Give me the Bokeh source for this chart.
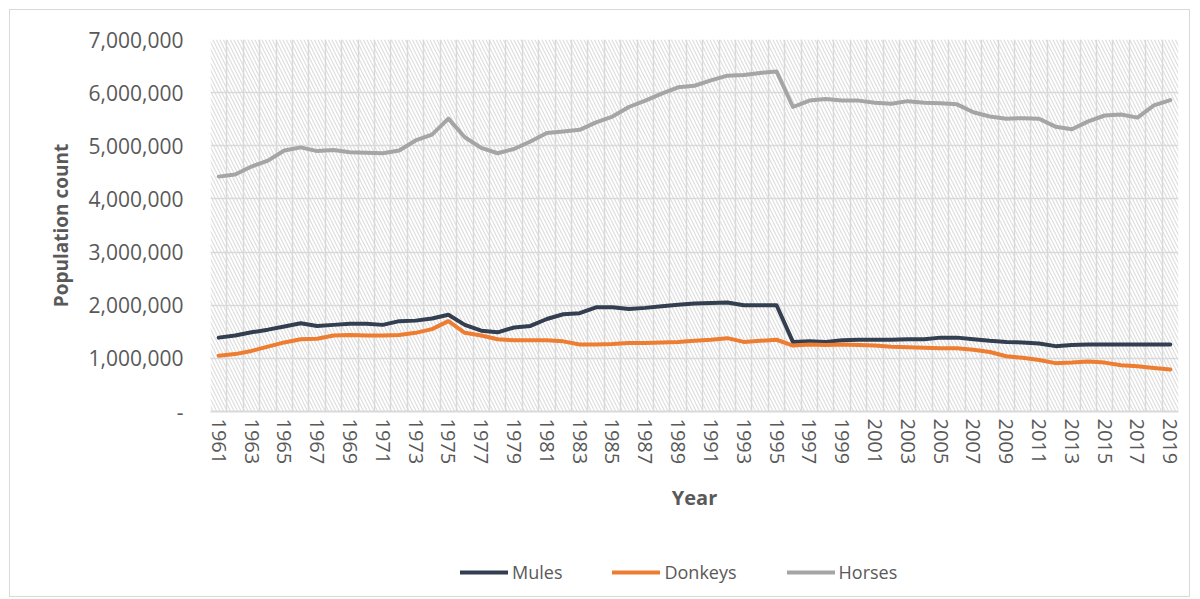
from bokeh.plotting import figure
from bokeh.layouts import column
from bokeh.models import (FixedTicker, NumeralTickFormatter, Legend, LegendItem,
                          BoxAnnotation, Range1d)
from bokeh.embed import file_html
from bokeh.resources import INLINE

years = list(range(1961, 2020))

mules = [1390000, 1430000, 1490000, 1540000, 1600000, 1660000, 1610000, 1630000, 1650000, 1650000,
         1630000, 1700000, 1710000, 1750000, 1820000, 1630000, 1520000, 1490000, 1580000, 1610000,
         1740000, 1830000, 1850000, 1960000, 1960000, 1930000, 1950000, 1980000, 2010000, 2030000,
         2040000, 2050000, 2000000, 2000000, 2000000, 1310000, 1320000, 1310000, 1340000, 1350000,
         1350000, 1350000, 1360000, 1360000, 1390000, 1390000, 1360000, 1330000, 1310000, 1300000,
         1280000, 1230000, 1250000, 1260000, 1260000, 1260000, 1260000, 1260000, 1260000]

donkeys = [1050000, 1080000, 1140000, 1220000, 1300000, 1360000, 1370000, 1430000, 1440000, 1430000,
           1430000, 1440000, 1480000, 1550000, 1700000, 1480000, 1430000, 1360000, 1340000, 1340000,
           1340000, 1320000, 1260000, 1260000, 1270000, 1290000, 1290000, 1300000, 1310000, 1330000,
           1350000, 1380000, 1310000, 1330000, 1350000, 1240000, 1260000, 1250000, 1260000, 1250000,
           1240000, 1220000, 1210000, 1200000, 1190000, 1190000, 1160000, 1120000, 1040000, 1010000,
           970000, 910000, 920000, 940000, 920000, 870000, 850000, 820000, 790000]

horses = [4420000, 4460000, 4610000, 4720000, 4910000, 4970000, 4900000, 4920000, 4880000, 4870000,
          4860000, 4910000, 5100000, 5210000, 5510000, 5160000, 4960000, 4860000, 4940000, 5080000,
          5240000, 5270000, 5300000, 5440000, 5550000, 5730000, 5850000, 5980000, 6100000, 6130000,
          6230000, 6320000, 6330000, 6370000, 6400000, 5730000, 5850000, 5880000, 5850000, 5850000,
          5810000, 5790000, 5840000, 5810000, 5800000, 5780000, 5630000, 5550000, 5510000, 5520000,
          5510000, 5360000, 5310000, 5460000, 5570000, 5590000, 5530000, 5760000, 5860000]

series_names = ["Mules", "Donkeys", "Horses"]
series_colors = ["#333f50", "#ed7d31", "#a5a5a5"]

y_ticks = [0, 1000000, 2000000, 3000000, 4000000, 5000000, 6000000, 7000000]
x_label_years = years[::2]

FONT = "Open Sans"
TXT = "#595959"
GRID = "#d9d9d9"
W = 1179

p = figure(width=W, height=515, output_backend="svg", toolbar_location=None,
           x_range=Range1d(years[0] - 0.5, years[-1] + 0.5),
           y_range=Range1d(y_ticks[0], y_ticks[-1]),
           min_border_left=200, min_border_right=11, min_border_top=29, min_border_bottom=114)
p.outline_line_color = None
p.background_fill_color = "white"

# hatched plot area
bg = BoxAnnotation(fill_color="white", fill_alpha=1.0, line_color=None,
                   hatch_pattern="\\", hatch_color="#dcdcdc", hatch_scale=7,
                   hatch_weight=1.1, level="image")
p.add_layout(bg)

# grids
p.ygrid.ticker = FixedTicker(ticks=y_ticks)
p.ygrid.grid_line_color = GRID
p.ygrid.grid_line_width = 1.5
p.xgrid.ticker = FixedTicker(ticks=[y - 0.5 for y in years] + [years[-1] + 0.5])
p.xgrid.grid_line_color = GRID
p.xgrid.grid_line_width = 1.5

# axes
xa = p.xaxis[0]
xa.ticker = FixedTicker(ticks=x_label_years)
xa.major_label_orientation = "vertical"
xa.major_label_text_font = FONT
xa.major_label_text_font_size = "20px"
xa.major_label_text_color = TXT
xa.major_tick_line_color = None
xa.major_tick_out = 0
xa.minor_tick_line_color = None
xa.axis_line_color = GRID
xa.axis_line_width = 2
xa.major_label_standoff = 7
xa.axis_label = "Year"
xa.axis_label_text_font = FONT
xa.axis_label_text_font_size = "20px"
xa.axis_label_text_font_style = "bold"
xa.axis_label_text_color = TXT
xa.axis_label_standoff = 17

ya = p.yaxis[0]
ya.ticker = FixedTicker(ticks=y_ticks)
ya.formatter = NumeralTickFormatter(format="0,0")
ya.major_label_overrides = {0: "-"}
ya.major_label_text_font = FONT
ya.major_label_text_font_size = "21px"
ya.major_label_text_color = TXT
ya.major_tick_line_color = None
ya.major_tick_out = 0
ya.minor_tick_line_color = None
ya.axis_line_color = None
ya.major_label_standoff = 27
ya.axis_label = "Population count"
ya.axis_label_text_font = FONT
ya.axis_label_text_font_size = "19px"
ya.axis_label_text_font_style = "bold"
ya.axis_label_text_color = TXT
ya.axis_label_standoff = 12

lw = 4
for vals, col in zip([mules, donkeys, horses], series_colors):
    p.line(years, vals, line_color=col, line_width=lw, line_join="round", line_cap="round")

# legend strip below the chart (its frame is aligned with the main frame)
lf = figure(width=W, height=71, output_backend="svg", toolbar_location=None,
            x_axis_location=None, y_axis_location=None,
            x_range=Range1d(0, 1), y_range=Range1d(0, 1),
            min_border_left=0, min_border_right=0, min_border_top=0, min_border_bottom=0)
lf.outline_line_color = None
lf.xgrid.visible = False
lf.ygrid.visible = False
items = []
for name, col in zip(series_names, series_colors):
    r = lf.line([-5, -4], [-5, -5], line_color=col, line_width=lw, line_cap="round")
    items.append(LegendItem(label=name, renderers=[r]))
legend = Legend(items=items, orientation="horizontal", location=(250, 12),
                glyph_width=48, glyph_height=22, label_standoff=4, spacing=50,
                label_text_font=FONT, label_text_font_size="18px", label_text_color=TXT,
                background_fill_alpha=0, border_line_color=None, padding=0, margin=0)
lf.add_layout(legend)

layout = column(p, lf, spacing=0,
                styles={"border": "1px solid #d9d9d9", "margin": "9px 0 0 9px"})

open("out.html", "w").write(file_html(layout, INLINE))
